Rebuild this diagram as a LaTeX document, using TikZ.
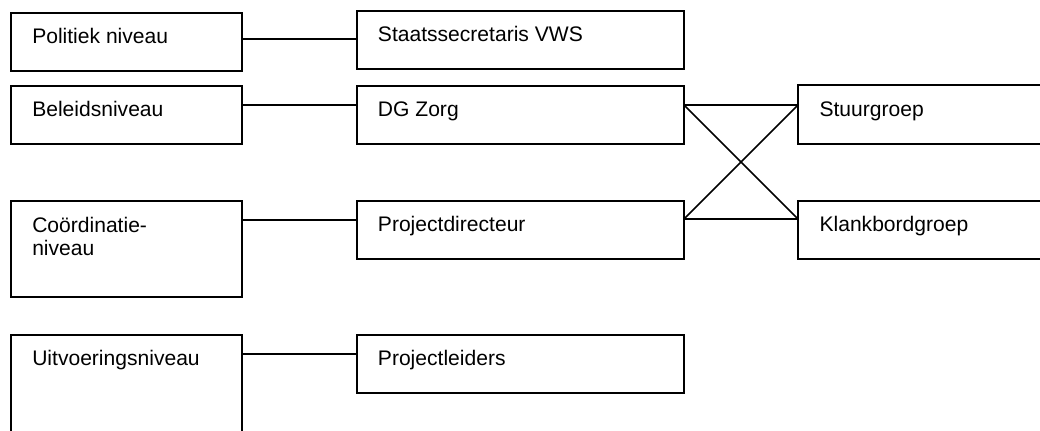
\documentclass[tikz,border=0pt]{standalone}
\usepackage{fontspec}
\setmainfont{Liberation Sans}
\usetikzlibrary{fit}
\begin{document}
\begin{tikzpicture}[x=0.75pt,y=-0.75pt,
  box/.style={draw=black,line width=1.1pt,inner sep=0pt,outer sep=0pt,rectangle},
  lbl/.style={anchor=base west,inner sep=0pt,font=\fontsize{15.8}{17.5}\selectfont},
  conn/.style={draw=black,line width=1.1pt}]
\useasboundingbox (0,0) rectangle (1040,430);
\clip (0,0) rectangle (1040,430);
% boxes
\node[box,fit={(11,13) (242,71)}] (L1) {};
\node[box,fit={(11,86) (242,144)}] (L2) {};
\node[box,fit={(11,201) (242,297)}] (L3) {};
\node[box,fit={(11,335) (242,460)}] (L4) {};
\node[box,fit={(357,11) (684,69)}] (M1) {};
\node[box,fit={(357,86) (684,144)}] (M2) {};
\node[box,fit={(357,201) (684,259)}] (M3) {};
\node[box,fit={(357,335) (684,393)}] (M4) {};
\node[box,fit={(798,85) (1100,144)}] (R1) {};
\node[box,fit={(798,201) (1100,259)}] (R2) {};
% labels
\node[lbl] (tL1) at (32,43.3) {Politiek niveau};
\node[lbl] (tL2) at (32,116.7) {Beleidsniveau};
\node[lbl] (tL3a) at (32,232.3) {Coördinatie-};
\node[lbl] (tL3b) at (32,255.7) {niveau};
\node[lbl] (tL4) at (32,365) {Uitvoeringsniveau};
\node[lbl] (tM1) at (377.7,41.7) {Staatssecretaris VWS};
\node[lbl] (tM2) at (377.7,116.7) {DG Zorg};
\node[lbl] (tM3) at (377.7,231.7) {Projectdirecteur};
\node[lbl] (tM4) at (377.7,365) {Projectleiders};
\node[lbl] (tR1) at (819.3,116.7) {Stuurgroep};
\node[lbl] (tR2) at (819.3,231.7) {Klankbordgroep};
% connectors
\draw[conn] (L1.east |- 0,39) -- (M1.west |- 0,39);
\draw[conn] (L2.east |- 0,105) -- (M2.west |- 0,105);
\draw[conn] (L3.east |- 0,220) -- (M3.west |- 0,220);
\draw[conn] (L4.east |- 0,354) -- (M4.west |- 0,354);
\draw[conn] (M2.east |- 0,105) -- (R1.west |- 0,105);
\draw[conn] (M2.east |- 0,105) -- (R2.west |- 0,219);
\draw[conn] (M3.east |- 0,219) -- (R1.west |- 0,105);
\draw[conn] (M3.east |- 0,219) -- (R2.west |- 0,219);
\end{tikzpicture}
\end{document}
